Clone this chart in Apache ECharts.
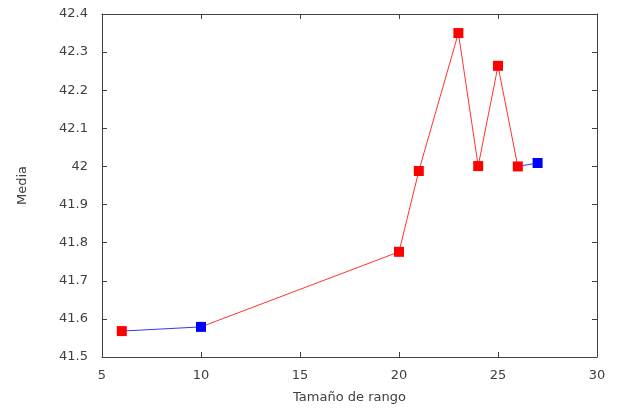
<!DOCTYPE html>
<html><head><meta charset="utf-8">
<script src="https://cdn.jsdelivr.net/npm/echarts@6/dist/echarts.min.js"></script>
<style>html,body{margin:0;padding:0;background:#fff}#c{width:618px;height:409px}</style>
</head><body><div id="c"></div>
<script>
const xValues = [6, 10, 20, 21, 23, 24, 25, 26, 27];
const yValues = [41.568, 41.579, 41.776, 41.988, 42.350, 42.001, 42.264, 42.000, 42.009];
const pointGroups = ['r', 'b', 'r', 'r', 'r', 'r', 'r', 'r', 'b'];
const xTicks = [5, 10, 15, 20, 25, 30];
const yTicks = [41.5, 41.6, 41.7, 41.8, 41.9, 42, 42.1, 42.2, 42.3, 42.4];
const colors = { r: '#ff0000', b: '#0000ff' };

const series = [];
for (let i = 1; i < xValues.length; i++) {
  series.push({
    type: 'line', symbol: 'none', silent: true, animation: false,
    data: [[xValues[i-1], yValues[i-1]], [xValues[i], yValues[i]]],
    lineStyle: { color: colors[pointGroups[i]], width: 1, opacity: 0.8 },
    xAxisIndex: 0, yAxisIndex: 0, z: 2
  });
}
series.push({
  type: 'scatter', symbol: 'rect', symbolSize: 10, animation: false,
  data: xValues.map((x, i) => ({ value: [x, yValues[i]], itemStyle: { color: colors[pointGroups[i]], opacity: 1 } })),
  itemStyle: { opacity: 1 },
  xAxisIndex: 0, yAxisIndex: 0, z: 3
});

const axisCommon = {
  axisLine: { show: true, lineStyle: { color: '#404040', width: 1 } },
  axisTick: { show: true, inside: true, length: 5, lineStyle: { color: '#404040' } },
  splitLine: { show: false }
};
const labelStyle = { color: '#404040', fontFamily: 'DejaVu Sans', fontSize: 13 };

const option = {
  backgroundColor: '#fff',
  animation: false,
  grid: { left: 102, right: 21, top: 14, bottom: 52 },
  xAxis: [
    Object.assign({}, axisCommon, {
      type: 'value', min: 5, max: 30, interval: 5, position: 'bottom',
      axisLabel: Object.assign({ margin: 12, formatter: v => xTicks.includes(v) ? String(v) : '' }, labelStyle),
      name: 'Tamaño de rango', nameLocation: 'middle', nameGap: 34,
      nameTextStyle: labelStyle
    }),
    Object.assign({}, axisCommon, {
      type: 'value', min: 5, max: 30, interval: 5, position: 'top',
      axisLabel: { show: false }
    })
  ],
  yAxis: [
    Object.assign({}, axisCommon, {
      type: 'value', min: 41.5, max: 42.4, interval: 0.1, position: 'left',
      axisLabel: Object.assign({ margin: 14, formatter: v => { const t = yTicks.find(y => Math.abs(y - v) < 1e-6); return t === undefined ? '' : String(t); } }, labelStyle),
      name: 'Media', nameLocation: 'middle', nameGap: 73, nameRotate: 90,
      nameTextStyle: labelStyle
    }),
    Object.assign({}, axisCommon, {
      type: 'value', min: 41.5, max: 42.4, interval: 0.1, position: 'right',
      axisLabel: { show: false }
    })
  ],
  series: series
};
echarts.init(document.getElementById('c'), null, { renderer: 'canvas' }).setOption(option);
</script></body></html>
